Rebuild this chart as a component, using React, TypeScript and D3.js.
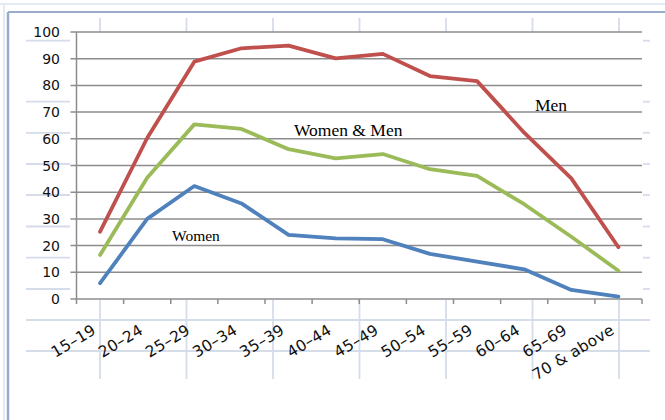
import React from 'react';
import * as d3 from 'd3';

const categories = ['15–19', '20–24', '25–29', '30–34', '35–39', '40–44', '45–49', '50–54', '55–59', '60–64', '65–69', '70 & above'];
const men = [25.2, 60.3, 88.9, 93.9, 94.9, 90.1, 91.8, 83.5, 81.6, 62.3, 45.2, 19.4];
const womenAndMen = [16.5, 45.4, 65.4, 63.7, 56.1, 52.7, 54.3, 48.6, 46.1, 35.5, 23.3, 10.6];
const women = [5.9, 30.0, 42.3, 35.8, 24.0, 22.7, 22.4, 16.9, 14.0, 11.1, 3.4, 0.9];
const yTicks = [0, 10, 20, 30, 40, 50, 60, 70, 80, 90, 100];

const seriesNames = ['Women', 'Women & Men', 'Men'];
const seriesColors = ['#4F81BD', '#9BBB59', '#C0504D'];

// spreadsheet background grid (behind the transparent chart area)
const sheetRows = [40.7, 101.7, 132.8, 164, 195, 226.5, 257.7, 289, 320, 351];
const sheetCols = [100, 186.5, 273, 359.5, 446, 532.5, 619];

export default function App() {
  const W = 665, H = 420;
  const left = 76.5, right = 642, top = 32, bottom = 299;
  const x = d3.scaleBand<string>().domain(categories).range([left, right]);
  const y = d3.scaleLinear().domain([0, 100]).range([bottom, top]);
  const cx = (c: string) => (x(c) as number) + x.bandwidth() / 2;
  const line = d3.line<number>().x((_, i) => cx(categories[i])).y(v => y(v));
  const data = [women, womenAndMen, men];
  const boundaries = categories.map(c => x(c) as number).concat([right]);
  const sheet = '#d5dcea';
  const grid = '#8c8c8c';

  const labels = [
    { text: seriesNames[0], x: 172, y: 241, size: 15.5 },
    { text: seriesNames[1], x: 294, y: 136, size: 17.5 },
    { text: seriesNames[2], x: 535, y: 111, size: 17.5 },
  ];

  return (
    <svg width={W} height={H} style={{ position: 'absolute', left: 0, top: 0, background: '#fff' }}>
      {/* spreadsheet grid */}
      {sheetRows.map((r, i) =>
        r > 300 ? (
          <line key={'r' + i} x1={26} x2={650} y1={r} y2={r} stroke={sheet} strokeWidth={1.8} />
        ) : (
          <g key={'r' + i}>
            <line x1={26} x2={70} y1={r} y2={r} stroke={sheet} strokeWidth={1.8} />
            <line x1={643} x2={650} y1={r} y2={r} stroke={sheet} strokeWidth={1.8} />
          </g>
        )
      )}
      {sheetCols.map((c, i) => (
        <g key={'c' + i}>
          <line x1={c} x2={c} y1={18} y2={top} stroke={sheet} strokeWidth={1.8} />
          <line x1={c} x2={c} y1={bottom + 1} y2={379} stroke={sheet} strokeWidth={1.8} />
        </g>
      ))}
      {/* chart frame */}
      <line x1={0} x2={W} y1={4} y2={4} stroke="#e3eaf4" strokeWidth={2} />
      <line x1={8} x2={W} y1={12} y2={12} stroke="#9aabcb" strokeWidth={2} />
      <line x1={4} x2={4} y1={4} y2={H} stroke="#e3eaf4" strokeWidth={2} />
      <line x1={8} x2={8} y1={12} y2={H} stroke="#9aabcb" strokeWidth={2.5} />
      {/* plot area */}
      <rect x={left} y={top} width={right - left} height={bottom - top} fill="#fff" />
      {yTicks.map(t => (
        <g key={t}>
          <line x1={left - 6} x2={right} y1={y(t)} y2={y(t)} stroke={grid} strokeWidth={1.5} />
          <text x={60} y={y(t) + 5} textAnchor="end" fontFamily="DejaVu Sans" fontSize={14} fill="#111">{t}</text>
        </g>
      ))}
      <line x1={left} x2={left} y1={top} y2={bottom} stroke={grid} strokeWidth={1.5} />
      {boundaries.map((b, i) => (
        <line key={i} x1={b} x2={b} y1={bottom} y2={bottom + 5} stroke={grid} strokeWidth={1.5} />
      ))}
      {categories.map(c => (
        <text key={c} transform={`translate(${cx(c) - 3},${333}) rotate(-31)`} textAnchor="end"
          fontFamily="DejaVu Sans" fontSize={15.5} letterSpacing={0.3} fill="#111">{c}</text>
      ))}
      {data.map((d, i) => (
        <path key={i} d={line(d) as string} fill="none" stroke={seriesColors[i]} strokeWidth={3.8}
          strokeLinejoin="round" strokeLinecap="round" />
      ))}
      {labels.map(l => (
        <text key={l.text} x={l.x} y={l.y} fontFamily="Liberation Serif" fontSize={l.size} fill="#000">{l.text}</text>
      ))}
    </svg>
  );
}
